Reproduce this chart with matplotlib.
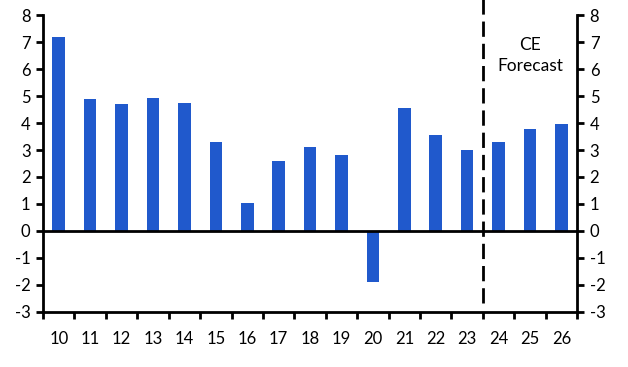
import numpy as np
import matplotlib.pyplot as plt
from matplotlib.ticker import FixedLocator

plt.rcParams["font.family"] = ["Lato", "DejaVu Sans"]
plt.rcParams["axes.unicode_minus"] = False

years = ["10", "11", "12", "13", "14", "15", "16", "17", "18",
         "19", "20", "21", "22", "23", "24", "25", "26"]
growth = [7.2, 4.9, 4.7, 4.93, 4.75, 3.3, 1.04, 2.6, 3.1,
          2.8, -1.88, 4.56, 3.56, 3.0, 3.3, 3.78, 3.96]
n_actual = 14  # 10..23 are outturns, then forecast

BLUE = "#2059cc"

fig = plt.figure(figsize=(6.28, 3.67), dpi=100)
ax = fig.add_axes([0.0685, 0.150, 0.8505, 0.809])

x = np.arange(len(years))
ax.bar(x, growth, width=0.4, color=BLUE, zorder=2)

ax.set_xlim(-0.5, len(years) - 0.5)
ax.set_ylim(-3, 8)
ax.axhline(0, color="black", lw=2, zorder=3)

# forecast divider, runs up past the top of the axes
ax.axvline(n_actual - 0.5, ymin=0.03, ymax=1.06, color="black", lw=2,
           ls=(0, (5.5, 2.5)), clip_on=False, zorder=3)
ax.text(n_actual + 1, 6.5, "CE\nForecast", ha="center", va="center",
        fontsize=12.5, linespacing=1.4)

# x ticks: labels at the bar centres, marks between the bars
ax.set_xticks(x)
ax.set_xticklabels(years)
ax.xaxis.set_minor_locator(FixedLocator(np.arange(-0.5, len(years), 1.0)))
ax.tick_params(axis="x", which="major", length=0, pad=14, labelsize=12)
ax.tick_params(axis="x", which="minor", length=5, width=2, direction="out")

ax.set_yticks(range(-3, 9))
ax.tick_params(axis="y", which="major", length=5, width=2, direction="out",
               labelsize=12, pad=4, left=True, right=True,
               labelleft=True, labelright=True)

for side in ["left", "right", "bottom"]:
    ax.spines[side].set_linewidth(2)
ax.spines["top"].set_visible(False)

fig.savefig("out.png", dpi=100)
